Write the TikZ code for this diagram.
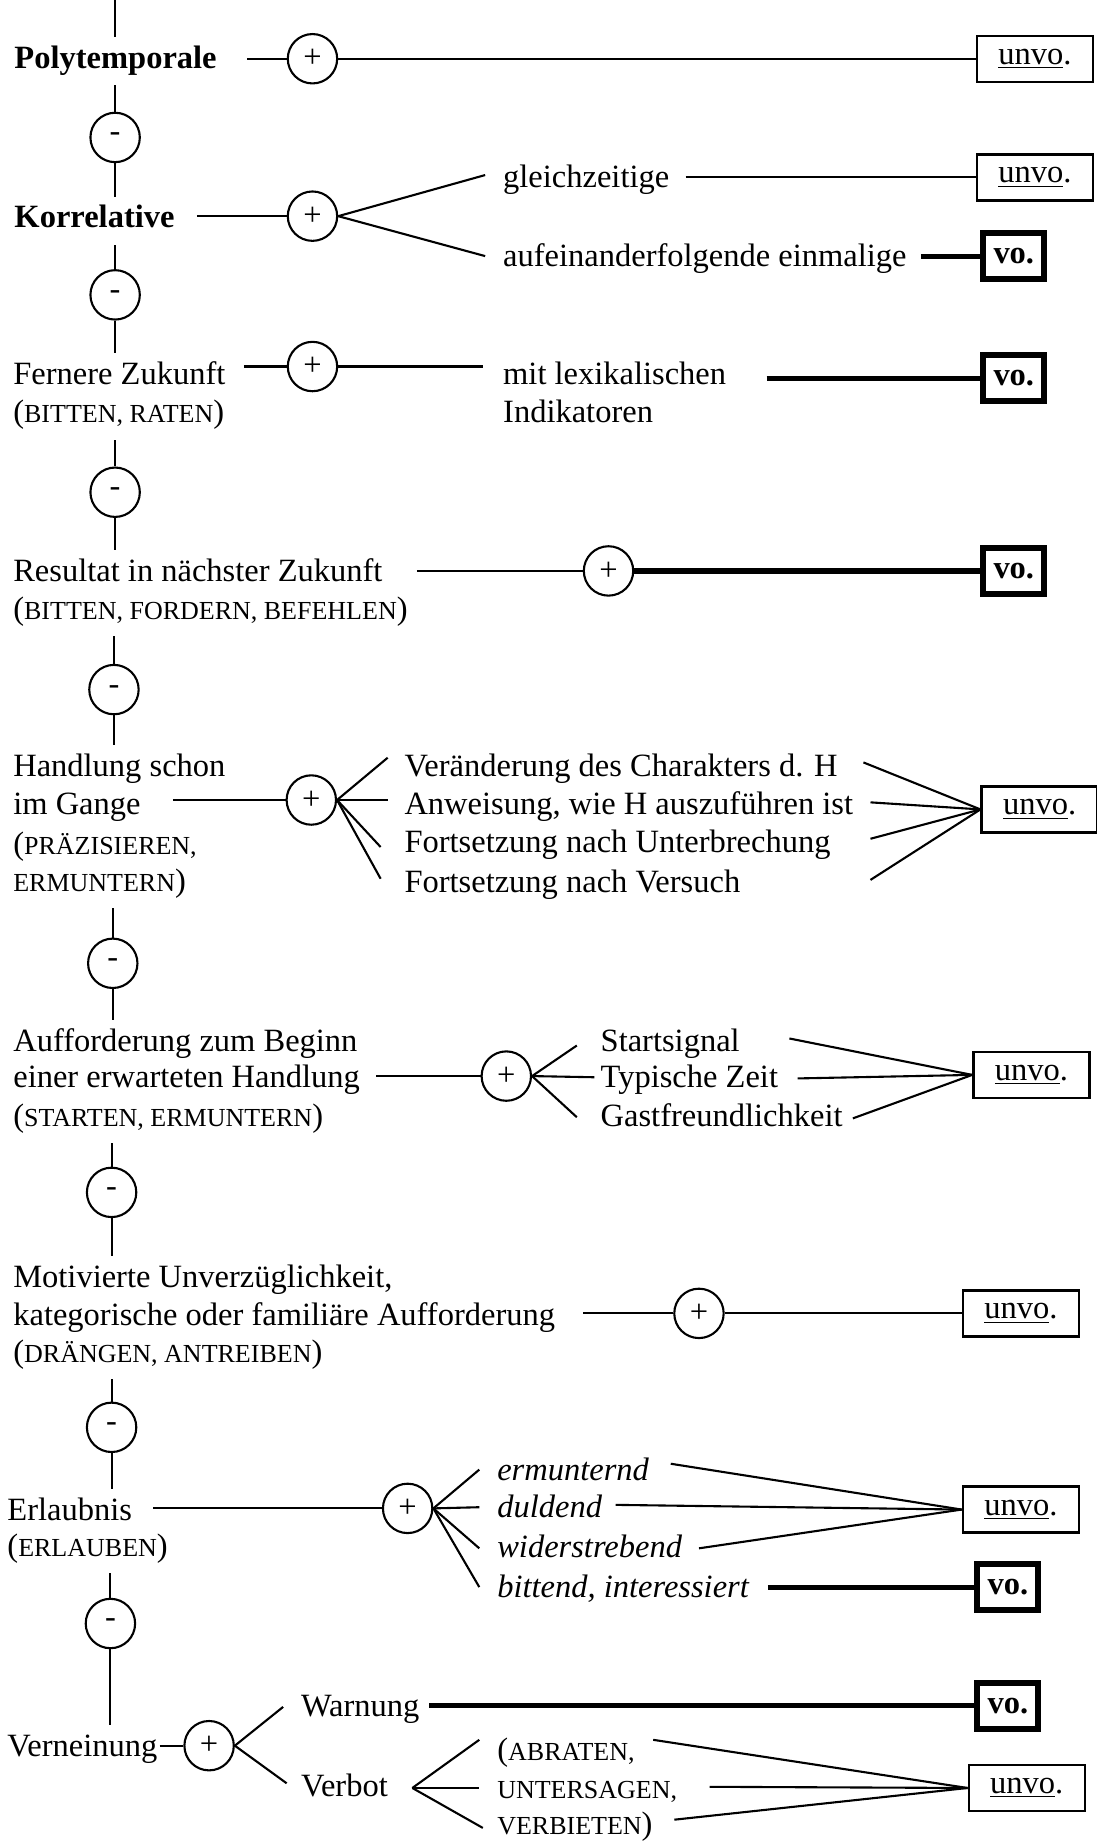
\documentclass[tikz,border=0pt]{standalone}
\usepackage{fontspec}
\setmainfont{Liberation Serif}
\newcommand{\verbs}[1]{{\fontsize{13pt}{15pt}\selectfont #1}}
\tikzstyle{every node}=[font=\fontsize{16.25pt}{19.5pt}\selectfont]
\tikzstyle{txt} = [anchor=base west,inner xsep=0pt,inner ysep=4pt,text height=11.4pt,text depth=4.1pt]
\tikzstyle{sign} = [circle,draw,line width=1.05pt,minimum size=24.7pt,inner sep=0pt]
\tikzstyle{unvo} = [rectangle,draw,line width=1.2pt,minimum width=58pt,minimum height=23pt]
\tikzstyle{vo} = [rectangle,draw,line width=3pt,minimum width=30.5pt,minimum height=22.8pt]
\tikzstyle{link} = [line width=1.05pt]
\tikzstyle{heavy} = [line width=2.6pt]

\begin{document}
\begin{tikzpicture}[x=0.5874pt,y=-0.5874pt]
	\useasboundingbox (0,0) rectangle (933,1568);
	\node[txt] (poly) at (12,58) {\textbf{Polytemporale}};
	\node[sign] (p1) at (266,50) {+};
	\node[unvo] (u1) at (881,50) {\underline{unvo}.};
	\node[sign] (m1) at (98,117) {-};
	\node[txt] (korr) at (12,194) {\textbf{Korrelative}};
	\node[sign] (p2) at (266,184) {+};
	\node[txt] (gleich) at (428,160) {gleichzeitige};
	\node[txt] (aufein) at (428,227) {aufeinanderfolgende einmalige};
	\node[unvo] (u2) at (881,151) {\underline{unvo}.};
	\node[vo] (v2) at (863,218) {\textbf{vo.}};
	\node[sign] (m2) at (98,251) {-};
	\node[txt] (fern) at (11,327) {Fernere Zukunft};
	\node[txt] (fernV) at (11,360) {(\verbs{BITTEN, RATEN})};
	\node[sign] (p3) at (266,312) {+};
	\node[txt] (mitlex) at (428,327) {mit lexikalischen};
	\node[txt] (indik) at (428,360) {Indikatoren};
	\node[vo] (v3) at (863,322) {\textbf{vo.}};
	\node[sign] (m3) at (98,419) {-};
	\node[txt] (res) at (11,495) {Resultat in nächster Zukunft};
	\node[txt] (resV) at (11,527) {(\verbs{BITTEN, FORDERN, BEFEHLEN})};
	\node[sign] (p4) at (518,486) {+};
	\node[vo] (v4) at (863,486) {\textbf{vo.}};
	\node[sign] (m4) at (97,587) {-};
	\node[txt] (hand1) at (11,661) {Handlung schon};
	\node[txt] (hand2) at (11,693) {im Gange};
	\node[txt] (hand3) at (11,727) {(\verbs{PRÄZISIEREN,}};
	\node[txt] (hand4) at (11,759) {\verbs{ERMUNTERN})};
	\node[sign] (p5) at (265,681) {+};
	\node[txt] (ver) at (344,661) {Veränderung des Charakters d. H};
	\node[txt] (anw) at (344,693) {Anweisung, wie H auszuführen ist};
	\node[txt] (fortU) at (344,726) {Fortsetzung nach Unterbrechung};
	\node[txt] (fortV) at (344,760) {Fortsetzung nach Versuch};
	\node[unvo] (u5) at (885,689) {\underline{unvo}.};
	\node[sign] (m5) at (96,820) {-};
	\node[txt] (auf1) at (11,895) {Aufforderung zum Beginn};
	\node[txt] (auf2) at (11,926) {einer erwarteten Handlung};
	\node[txt] (auf3) at (11,959) {(\verbs{STARTEN, ERMUNTERN})};
	\node[sign] (p6) at (431,916) {+};
	\node[txt] (start) at (511,895) {Startsignal};
	\node[txt] (typ) at (511,926) {Typische Zeit};
	\node[txt] (gast) at (511,959) {Gastfreundlichkeit};
	\node[unvo] (u6) at (878,915) {\underline{unvo}.};
	\node[sign] (m6) at (95,1015) {-};
	\node[txt] (mot1) at (11,1096) {Motivierte Unverzüglichkeit,};
	\node[txt] (mot2) at (11,1128) {kategorische oder familiäre Aufforderung};
	\node[txt] (mot3) at (11,1160) {(\verbs{DRÄNGEN, ANTREIBEN})};
	\node[sign] (p7) at (595,1118) {+};
	\node[unvo] (u7) at (869,1118) {\underline{unvo}.};
	\node[sign] (m7) at (95,1215) {-};
	\node[txt] (erl1) at (6,1294) {Erlaubnis};
	\node[txt] (erl2) at (6,1325) {(\verbs{ERLAUBEN})};
	\node[sign] (p8) at (347,1284) {+};
	\node[txt] (ermu) at (423,1260) {\textit{ermunternd}};
	\node[txt] (duld) at (423,1292) {\textit{duldend}};
	\node[txt] (wider) at (423,1326) {\textit{widerstrebend}};
	\node[txt] (bitt) at (423,1360) {\textit{bittend, interessiert}};
	\node[unvo] (u8) at (869,1285) {\underline{unvo}.};
	\node[vo] (v8) at (858,1351) {\textbf{vo.}};
	\node[sign] (m8) at (94,1382) {-};
	\node[txt] (vern) at (6,1495) {Verneinung};
	\node[sign] (p9) at (178,1486) {+};
	\node[txt] (warn) at (256,1461) {Warnung};
	\node[txt] (verb) at (256,1529) {Verbot};
	\node[txt] (abr) at (423,1499) {(\verbs{ABRATEN,}};
	\node[txt] (unters) at (423,1531) {\verbs{UNTERSAGEN,}};
	\node[txt] (verbiet) at (423,1562) {\verbs{VERBIETEN})};
	\node[vo] (v9) at (858,1452) {\textbf{vo.}};
	\node[unvo] (u9) at (874,1522) {\underline{unvo}.};
	\coordinate (top) at (98,0);
	\coordinate (k1) at (413,149);
	\coordinate (k2) at (413,218);
	\coordinate (f1) at (411,312);
	\coordinate (h1) at (330,645);
	\coordinate (h2) at (330,681);
	\coordinate (h3) at (324,721);
	\coordinate (h4) at (324,748);
	\coordinate (r1) at (735,649);
	\coordinate (r2) at (741,683);
	\coordinate (r3) at (741,714);
	\coordinate (r4) at (741,749);
	\coordinate (s1) at (491,890);
	\coordinate (s2) at (506,917);
	\coordinate (s3) at (491,951);
	\coordinate (t1) at (672,884);
	\coordinate (t2) at (679,918);
	\coordinate (t3) at (726,952);
	\coordinate (e1) at (408,1251);
	\coordinate (e2) at (408,1283);
	\coordinate (e3) at (408,1318);
	\coordinate (e4) at (408,1351);
	\coordinate (q1) at (571,1246);
	\coordinate (q2) at (524,1281);
	\coordinate (q3) at (595,1318);
	\coordinate (w1) at (241,1453);
	\coordinate (w2) at (244,1518);
	\coordinate (vb) at (351,1522);
	\coordinate (b1) at (408,1481);
	\coordinate (b2) at (408,1522);
	\coordinate (b3) at (411,1556);
	\coordinate (z1) at (556,1481);
	\coordinate (z2) at (604,1521);
	\coordinate (z3) at (574,1549);
	\draw[link] (top) -- (top |- poly.north);
	\draw[link] (m1) -- (m1 |- poly.south);
	\draw[link] (m1) -- (m1 |- korr.north);
	\draw[link] (m2) -- (m2 |- korr.south);
	\draw[link] (m2) -- (m2 |- fern.north);
	\draw[link] (m3) -- (m3 |- fernV.south);
	\draw[link] (m3) -- (m3 |- res.north);
	\draw[link] (m4) -- (m4 |- resV.south);
	\draw[link] (m4) -- (m4 |- hand1.north);
	\draw[link] (m5) -- (m5 |- hand4.south);
	\draw[link] (m5) -- (m5 |- auf1.north);
	\draw[link] (m6) -- (m6 |- auf3.south);
	\draw[link] (m6) -- (m6 |- mot1.north);
	\draw[link] (m7) -- (m7 |- mot3.south);
	\draw[link] (m7) -- (m7 |- erl1.north);
	\draw[link] (m8) -- (m8 |- erl2.south);
	\draw[link] (m8) -- (m8 |- vern.north);
	\draw[link,shorten <=15pt] (poly.east |- p1) -- (p1);
	\draw[link] (p1) -- (u1);
	\draw[link,shorten <=11pt] (korr.east |- p2) -- (p2);
	\foreach \c in {k1,k2}
	{\draw[link] (p2.east) -- (\c);}
	\draw[link,shorten <=8pt] (gleich.east |- u2.west) -- (u2.west);
	\draw[heavy,shorten <=7pt] (aufein.east |- v2.west) -- (v2.west);
	\draw[link,shorten <=9pt] (fern.east |- p3) -- (p3);
	\draw[link] (p3) -- (f1);
	\draw[heavy,shorten <=20pt] (mitlex.east |- v3.west) -- (v3.west);
	\draw[link,shorten <=17pt] (res.east |- p4) -- (p4);
	\draw[heavy] (p4) -- (v4);
	\draw[link,shorten <=16pt] (hand2.east |- p5) -- (p5);
	\foreach \c in {h1,h2,h3,h4}
	{\draw[link] (p5.east) -- (\c);}
	\foreach \c in {r1,r2,r3,r4}
	{\draw[link] (\c) -- (u5.west);}
	\draw[link,shorten <=8pt] (auf2.east |- p6) -- (p6);
	\foreach \c in {s1,s2,s3}
	{\draw[link] (p6.east) -- (\c);}
	\foreach \c in {t1,t2,t3}
	{\draw[link] (\c) -- (u6.west);}
	\draw[link,shorten <=14pt] (mot2.east |- p7) -- (p7);
	\draw[link] (p7) -- (u7);
	\draw[link,shorten <=10.5pt] (erl1.east |- p8) -- (p8);
	\foreach \c in {e1,e2,e3,e4}
	{\draw[link] (p8.east) -- (\c);}
	\foreach \c in {q1,q2,q3}
	{\draw[link] (\c) -- (u8.west);}
	\draw[heavy,shorten <=9pt] (bitt.east |- v8.west) -- (v8.west);
	\draw[link,shorten <=1pt] (vern.east |- p9) -- (p9);
	\foreach \c in {w1,w2}
	{\draw[link] (p9.east) -- (\c);}
	\draw[heavy,shorten <=4.7pt] (warn.east |- v9.west) -- (v9.west);
	\foreach \c in {b1,b2,b3}
	{\draw[link] (vb) -- (\c);}
	\foreach \c in {z1,z2,z3}
	{\draw[link] (\c) -- (u9.west);}
\end{tikzpicture}
\end{document}
